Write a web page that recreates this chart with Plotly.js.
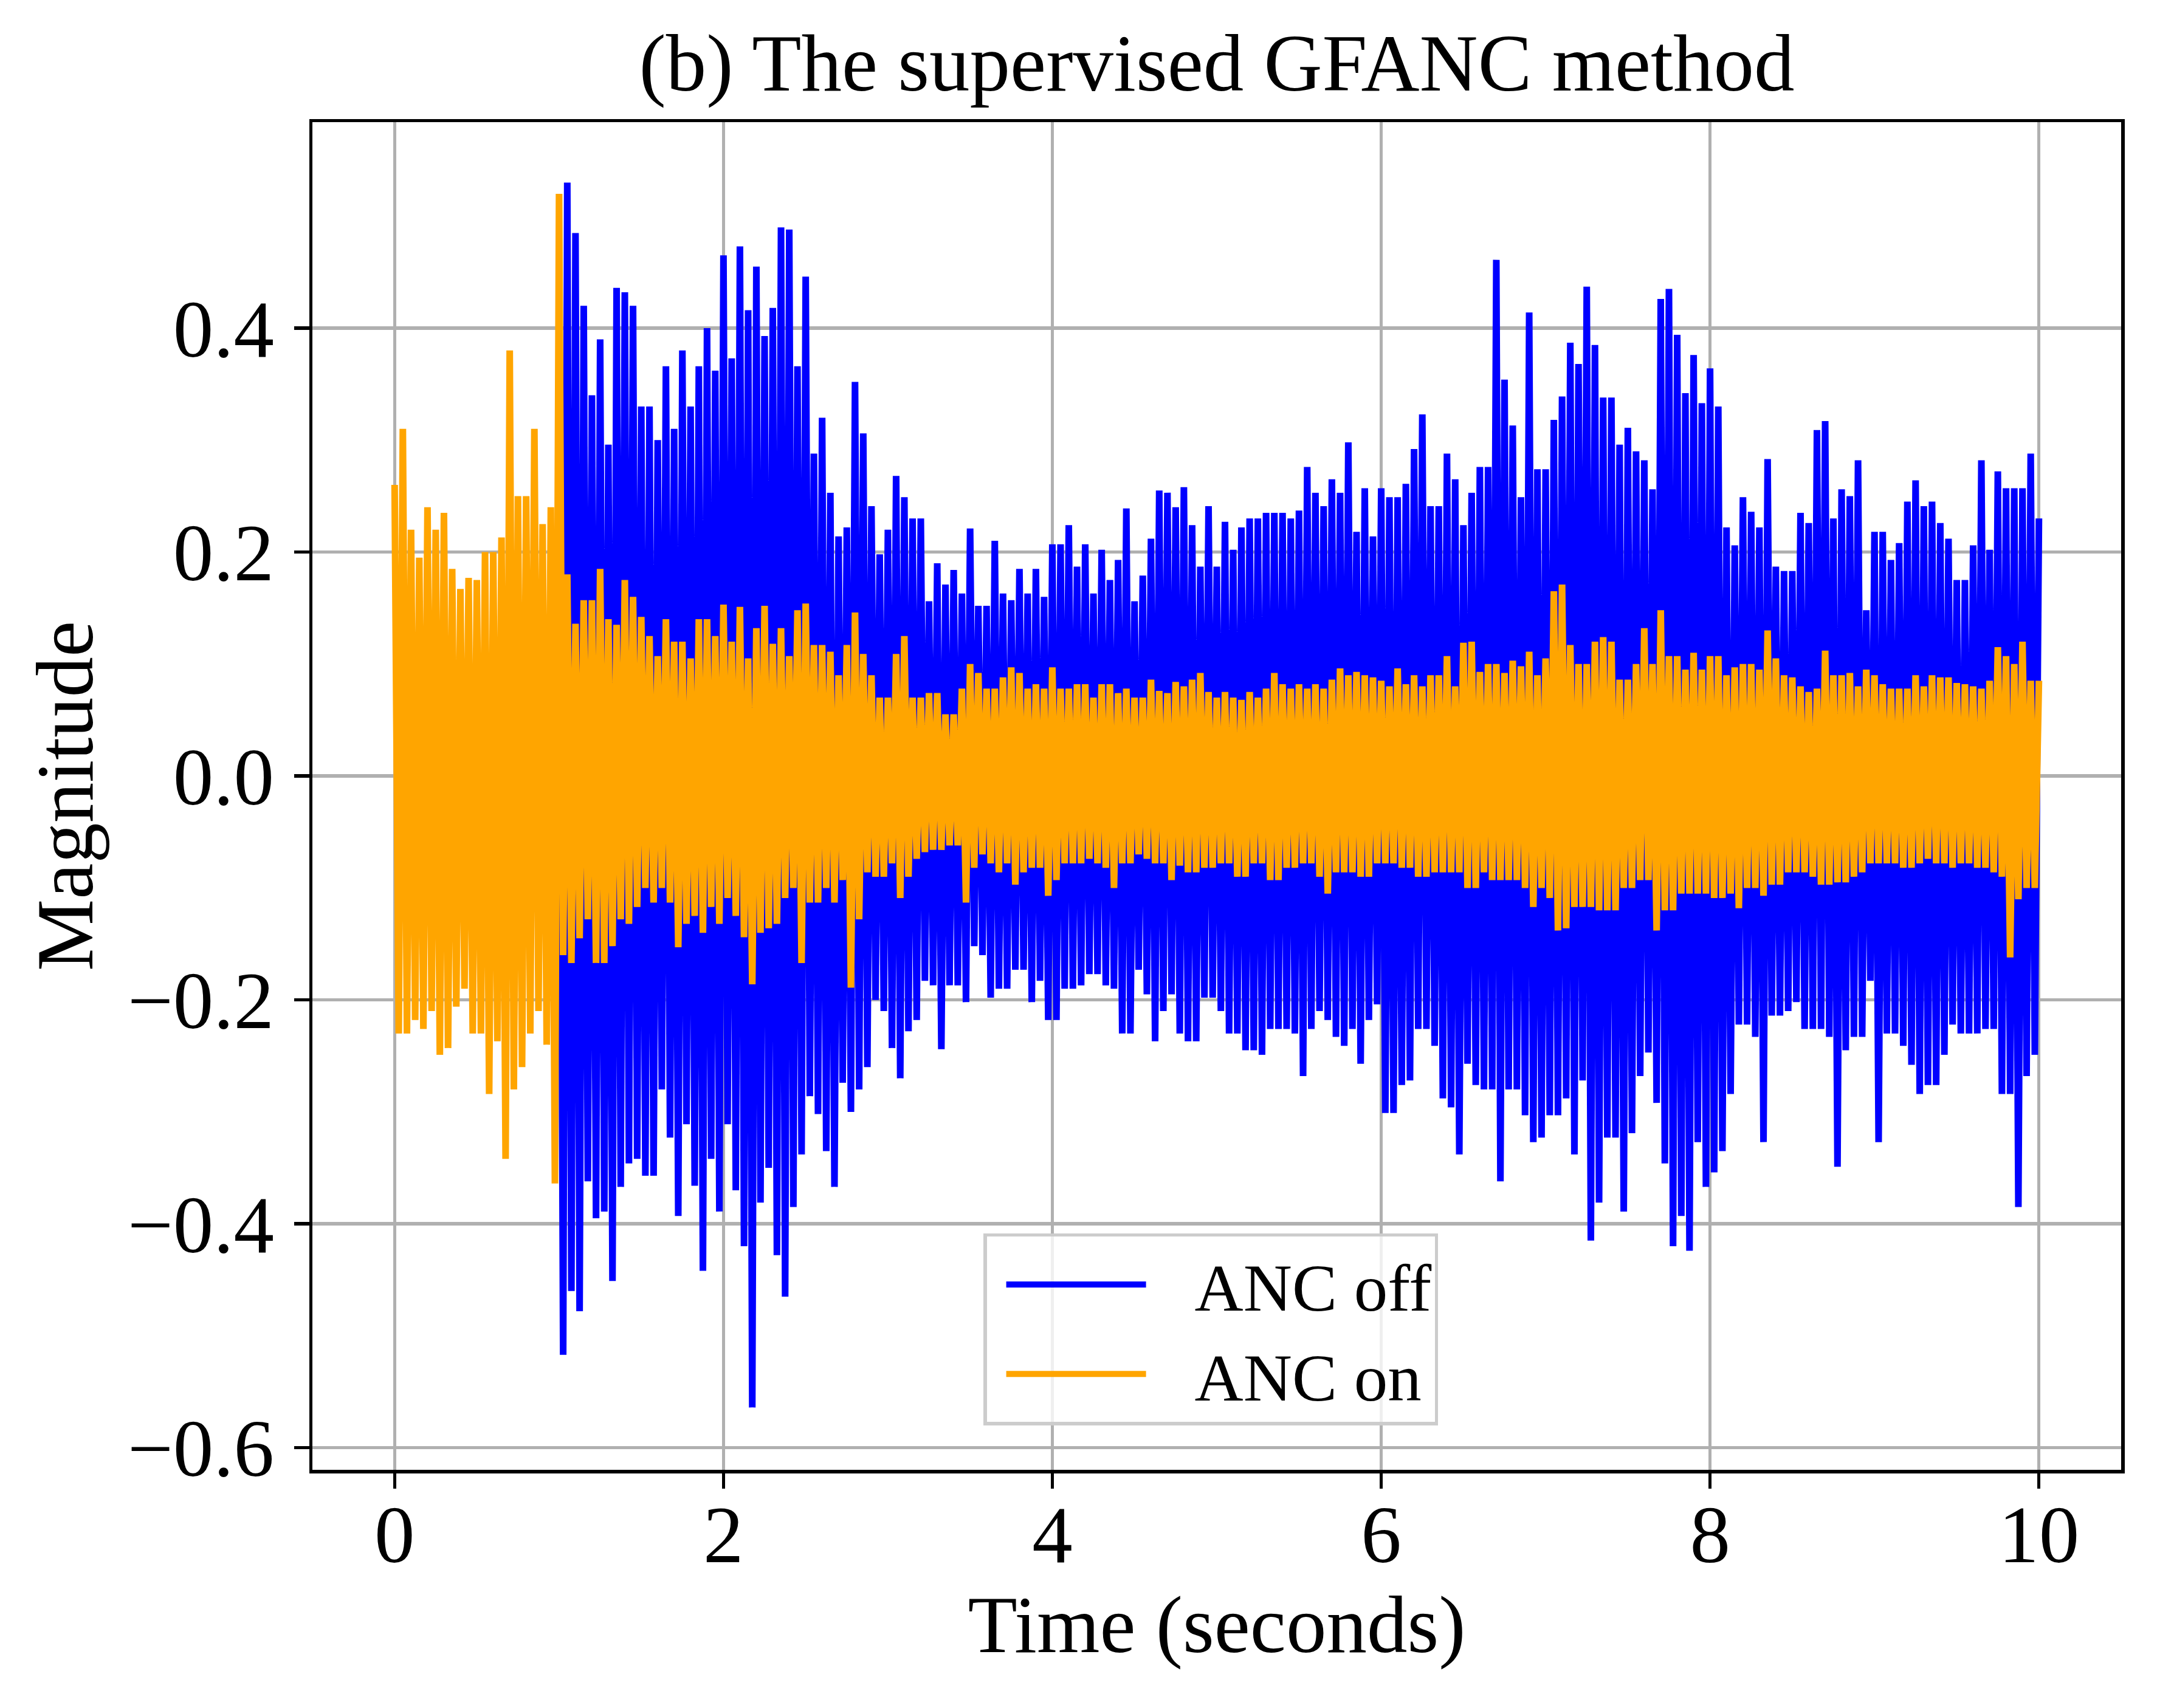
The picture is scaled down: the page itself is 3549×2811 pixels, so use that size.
<!DOCTYPE html>
<html><head><meta charset="utf-8">
<script src="https://cdn.plot.ly/plotly-3.0.1.min.js"></script>
<style>html,body{margin:0;padding:0;background:#fff}</style>
</head><body>
<div id="chart" style="width:3549px;height:2811px"></div>
<script>
const sampleStep = 0.05;      // seconds between successive positive peaks
const offStart = 1.0;         // ANC off trace visible from 1 s (identical to ANC on before)
const onStart = 0.0;

// ANC off: positive peaks at offStart + i*step, negative peaks half a step later
const offUpper = [
0.385,0.53,0.485,0.42,0.34,0.39,0.296,0.436,0.432,0.42,0.33,0.33,0.3,0.366,0.31,0.38,0.33,0.366,0.4,0.362,
0.465,0.373,0.473,0.416,0.455,0.393,0.418,0.49,0.488,0.366,0.446,0.288,0.32,0.253,0.214,0.222,0.352,0.306,0.241,0.198,
0.22,0.268,0.249,0.23,0.23,0.156,0.19,0.171,0.184,0.163,0.221,0.152,0.152,0.21,0.163,0.157,0.185,0.163,0.185,0.16,
0.207,0.207,0.224,0.187,0.207,0.163,0.202,0.175,0.193,0.239,0.156,0.179,0.212,0.255,0.253,0.24,0.258,0.224,0.187,0.241,
0.187,0.227,0.202,0.222,0.23,0.23,0.235,0.235,0.235,0.23,0.237,0.276,0.253,0.241,0.265,0.253,0.298,0.218,0.257,0.214,
0.257,0.249,0.249,0.261,0.292,0.323,0.241,0.241,0.288,0.265,0.224,0.253,0.276,0.276,0.461,0.354,0.313,0.249,0.414,0.274,
0.274,0.318,0.339,0.387,0.368,0.437,0.385,0.338,0.338,0.296,0.311,0.29,0.282,0.256,0.426,0.435,0.394,0.342,0.376,0.333,
0.364,0.33,0.222,0.206,0.249,0.236,0.222,0.283,0.187,0.183,0.183,0.235,0.226,0.309,0.317,0.23,0.256,0.25,0.282,0.148,
0.218,0.218,0.193,0.208,0.245,0.264,0.241,0.245,0.226,0.212,0.175,0.175,0.206,0.282,0.202,0.272,0.257,0.257,0.257,0.288,
0.23];
const offLower = [
-0.517,-0.46,-0.478,-0.362,-0.395,-0.389,-0.451,-0.367,-0.346,-0.342,-0.357,-0.357,-0.28,-0.323,-0.393,-0.311,-0.366,-0.442,-0.342,-0.389,
-0.311,-0.37,-0.42,-0.564,-0.381,-0.35,-0.428,-0.465,-0.385,-0.338,-0.286,-0.302,-0.335,-0.367,-0.274,-0.30,-0.28,-0.26,-0.2,-0.21,
-0.243,-0.27,-0.228,-0.218,-0.183,-0.187,-0.244,-0.187,-0.187,-0.202,-0.152,-0.16,-0.198,-0.19,-0.19,-0.173,-0.173,-0.202,-0.183,-0.218,
-0.218,-0.19,-0.19,-0.187,-0.177,-0.177,-0.187,-0.19,-0.23,-0.23,-0.173,-0.195,-0.237,-0.21,-0.195,-0.23,-0.237,-0.237,-0.198,-0.198,
-0.21,-0.23,-0.23,-0.245,-0.245,-0.249,-0.226,-0.226,-0.226,-0.23,-0.268,-0.226,-0.21,-0.218,-0.233,-0.241,-0.226,-0.257,-0.218,-0.204,
-0.301,-0.301,-0.276,-0.272,-0.226,-0.226,-0.241,-0.288,-0.296,-0.338,-0.257,-0.276,-0.28,-0.28,-0.362,-0.28,-0.28,-0.303,-0.327,-0.323,
-0.303,-0.303,-0.288,-0.338,-0.272,-0.415,-0.381,-0.323,-0.323,-0.389,-0.319,-0.268,-0.247,-0.292,-0.346,-0.42,-0.393,-0.424,-0.327,-0.367,
-0.354,-0.335,-0.284,-0.222,-0.222,-0.233,-0.327,-0.214,-0.214,-0.21,-0.202,-0.226,-0.226,-0.226,-0.233,-0.349,-0.245,-0.233,-0.233,-0.183,
-0.327,-0.23,-0.23,-0.241,-0.258,-0.284,-0.276,-0.276,-0.249,-0.222,-0.23,-0.23,-0.23,-0.226,-0.226,-0.284,-0.284,-0.385,-0.268,-0.249];

// ANC on
const onUpper = [
0.26,0.31,0.22,0.195,0.24,0.22,0.235,0.185,0.167,0.177,0.175,0.2,0.2,0.213,0.38,0.25,0.25,0.31,0.225,0.24,
0.52,0.18,0.136,0.157,0.157,0.185,0.14,0.135,0.175,0.16,0.142,0.125,0.107,0.14,0.12,0.12,0.105,0.14,0.14,0.125,
0.153,0.12,0.151,0.105,0.132,0.152,0.118,0.132,0.107,0.148,0.154,0.117,0.117,0.111,0.09,0.117,0.146,0.109,0.09,0.07,
0.07,0.109,0.125,0.07,0.07,0.074,0.074,0.055,0.055,0.078,0.1,0.092,0.078,0.078,0.088,0.097,0.092,0.078,0.082,0.078,
0.097,0.078,0.078,0.082,0.082,0.07,0.082,0.082,0.074,0.078,0.07,0.07,0.086,0.076,0.074,0.084,0.08,0.086,0.092,0.075,
0.07,0.075,0.07,0.068,0.075,0.07,0.078,0.092,0.082,0.078,0.082,0.078,0.082,0.078,0.086,0.096,0.09,0.093,0.09,0.088,
0.085,0.08,0.096,0.082,0.09,0.08,0.09,0.09,0.107,0.08,0.119,0.12,0.093,0.1,0.1,0.092,0.103,0.098,0.111,0.09,
0.105,0.165,0.171,0.117,0.1,0.1,0.12,0.124,0.12,0.086,0.086,0.1,0.132,0.1,0.148,0.107,0.107,0.095,0.11,0.095,
0.107,0.107,0.09,0.097,0.1,0.1,0.095,0.13,0.105,0.09,0.088,0.08,0.075,0.078,0.112,0.09,0.09,0.092,0.08,0.095,
0.09,0.082,0.078,0.078,0.078,0.09,0.08,0.09,0.088,0.088,0.083,0.082,0.08,0.078,0.085,0.115,0.107,0.1,0.12,0.085,
0.085];
const onLower = [
-0.23,-0.23,-0.218,-0.226,-0.21,-0.249,-0.243,-0.206,-0.19,-0.23,-0.23,-0.284,-0.237,-0.342,-0.28,-0.26,-0.23,-0.21,-0.24,-0.364,
-0.16,-0.167,-0.145,-0.128,-0.167,-0.167,-0.152,-0.128,-0.132,-0.117,-0.1,-0.113,-0.1,-0.113,-0.153,-0.132,-0.125,-0.14,-0.117,-0.132,
-0.109,-0.125,-0.144,-0.186,-0.14,-0.136,-0.132,-0.109,-0.1,-0.167,-0.113,-0.113,-0.1,-0.113,-0.093,-0.189,-0.128,-0.086,-0.09,-0.09,
-0.078,-0.109,-0.09,-0.074,-0.068,-0.066,-0.066,-0.062,-0.062,-0.113,-0.082,-0.07,-0.078,-0.086,-0.078,-0.097,-0.086,-0.082,-0.082,-0.107,
-0.093,-0.078,-0.078,-0.078,-0.074,-0.078,-0.082,-0.1,-0.078,-0.078,-0.07,-0.074,-0.078,-0.078,-0.093,-0.08,-0.086,-0.086,-0.082,-0.082,
-0.078,-0.078,-0.09,-0.09,-0.078,-0.078,-0.093,-0.093,-0.082,-0.082,-0.078,-0.078,-0.09,-0.105,-0.086,-0.086,-0.086,-0.09,-0.09,-0.078,
-0.078,-0.078,-0.082,-0.082,-0.09,-0.09,-0.086,-0.086,-0.086,-0.086,-0.1,-0.1,-0.086,-0.093,-0.093,-0.093,-0.093,-0.1,-0.117,-0.1,
-0.109,-0.138,-0.136,-0.117,-0.117,-0.117,-0.12,-0.12,-0.12,-0.1,-0.1,-0.093,-0.093,-0.138,-0.12,-0.12,-0.105,-0.105,-0.105,-0.105,
-0.109,-0.109,-0.105,-0.118,-0.1,-0.1,-0.107,-0.097,-0.097,-0.086,-0.086,-0.086,-0.09,-0.097,-0.097,-0.095,-0.095,-0.09,-0.086,-0.078,
-0.078,-0.078,-0.078,-0.082,-0.082,-0.078,-0.074,-0.078,-0.078,-0.082,-0.078,-0.078,-0.082,-0.082,-0.086,-0.09,-0.162,-0.11,-0.1,-0.1];

const seriesNames = ['ANC off', 'ANC on'];
const seriesColors = ['#0000ff', '#ffa500'];
const xTickVals = [0, 2, 4, 6, 8, 10];
const yTickVals = [-0.6, -0.4, -0.2, 0.0, 0.2, 0.4];

function buildSeries(start, upper, lower) {
  const x = [], y = [];
  for (let i = 0; i < upper.length; i++) {
    const t = start + i * sampleStep;
    x.push(+t.toFixed(4)); y.push(upper[i]);
    if (i < lower.length) { x.push(+(t + sampleStep / 2).toFixed(4)); y.push(lower[i]); }
  }
  return { x, y };
}

const off = buildSeries(offStart, offUpper, offLower);
const on = buildSeries(onStart, onUpper, onLower);

const FONT = 'Liberation Serif, Times New Roman, serif';
const LEGEND_LINE = 230;   // px length of legend sample line

const traces = [
  { x: off.x, y: off.y, type: 'scatter', mode: 'lines', name: seriesNames[0],
    line: { color: seriesColors[0], width: 11, shape: 'linear' } },
  { x: on.x, y: on.y, type: 'scatter', mode: 'lines', name: seriesNames[1],
    line: { color: seriesColors[1], width: 11, shape: 'linear' } }
];

const axisCommon = {
  showline: true, linecolor: '#000', linewidth: 5.5, mirror: true,
  showgrid: true, gridcolor: '#b0b0b0', gridwidth: 5.5, zeroline: false,
  ticks: 'outside', ticklen: 25, tickwidth: 5.5, tickcolor: '#000',
  tickfont: { family: FONT, size: 133, color: '#000' }
};

const layout = {
  width: 3549, height: 2811,
  paper_bgcolor: '#fff', plot_bgcolor: '#fff',
  margin: { l: 514, r: 59, t: 201, b: 392, pad: 0 },
  font: { family: FONT, color: '#000' },
  title: { text: '(b) The supervised GFANC method', font: { family: FONT, size: 133, color: '#000' },
           xref: 'paper', x: 0.5, xanchor: 'center', yref: 'container', y: 0.9635, yanchor: 'middle' },
  xaxis: Object.assign({}, axisCommon, {
    range: [-0.5, 10.5], tickvals: xTickVals, ticktext: xTickVals.map(String),
    ticklabelstandoff: -38,
    title: { text: 'Time (seconds)', font: { family: FONT, size: 133, color: '#000' }, standoff: 24 }
  }),
  yaxis: Object.assign({}, axisCommon, {
    range: [-0.6197, 0.584], tickvals: yTickVals, tickformat: '.1f',
    ticklabelstandoff: 6,
    title: { text: 'Magnitude', font: { family: FONT, size: 133, color: '#000' }, standoff: 14 }
  }),
  showlegend: true,
  legend: {
    x: 0.371, y: 0.033, xanchor: 'left', yanchor: 'bottom', xref: 'paper', yref: 'paper',
    bgcolor: 'rgba(255,255,255,0.8)', bordercolor: '#cccccc', borderwidth: 5.5,
    font: { family: FONT, size: 111, color: '#000' },
    itemwidth: 305, indentation: 27, traceorder: 'normal'
  }
};

Plotly.newPlot('chart', traces, layout, { staticPlot: true, displayModeBar: false }).then(function (gd) {
  // keep the legend sample lines at matplotlib's length, leaving a gap before the label
  gd.querySelectorAll('.legend .legendlines path').forEach(function (p) {
    p.setAttribute('d', 'M5,0h' + LEGEND_LINE);
  });
});
</script>
</body></html>
